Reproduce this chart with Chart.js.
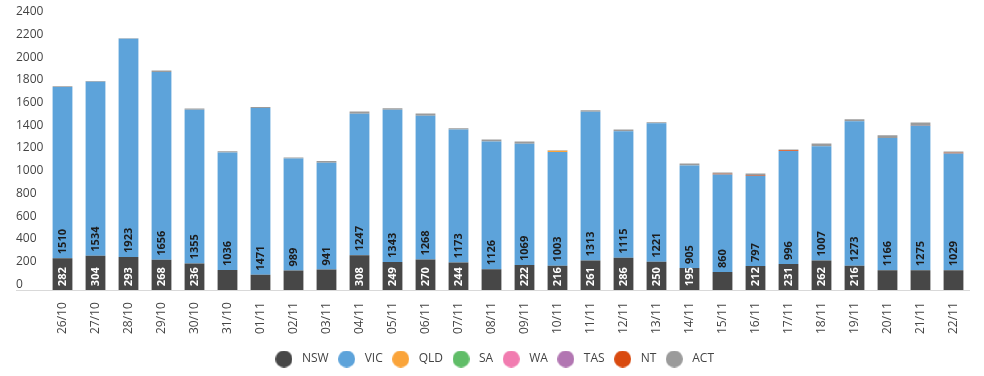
<!DOCTYPE html>
<html lang="en">
<head>
    <meta charset="UTF-8">
    <title>Daily cases by state</title>
    <script src="https://cdn.jsdelivr.net/npm/chart.js"></script>
    <style>
        html, body { margin: 0; padding: 0; background: #fff; }
        #wrap { width: 984px; height: 376px; }
    </style>
</head>
<body>
<div id="wrap"><canvas id="casesChart"></canvas></div>
<script>
    var days = ['26/10', '27/10', '28/10', '29/10', '30/10', '31/10', '01/11', '02/11', '03/11', '04/11',
        '05/11', '06/11', '07/11', '08/11', '09/11', '10/11', '11/11', '12/11', '13/11', '14/11',
        '15/11', '16/11', '17/11', '18/11', '19/11', '20/11', '21/11', '22/11'];

    var nsw = [282, 304, 293, 268, 236, 177, 135, 173, 182, 308, 249, 270, 244, 185,
        222, 216, 261, 286, 250, 195, 160, 212, 231, 262, 216, 176, 176, 176];
    var vic = [1510, 1534, 1923, 1656, 1355, 1036, 1471, 989, 941, 1247, 1343, 1268, 1173, 1126,
        1069, 1003, 1313, 1115, 1221, 905, 860, 797, 996, 1007, 1273, 1166, 1275, 1029];
    var qld = [0, 0, 0, 0, 0, 0, 0, 0, 0, 0, 0, 0, 0, 0, 0, 10, 0, 0, 0, 0, 0, 0, 0, 0, 0, 0, 0, 0];
    var sa  = [0, 0, 0, 0, 0, 0, 0, 0, 0, 0, 0, 0, 0, 0, 0, 0, 0, 0, 0, 0, 0, 0, 0, 0, 0, 0, 0, 0];
    var wa  = [0, 0, 0, 0, 0, 0, 0, 0, 0, 0, 0, 0, 0, 0, 0, 0, 0, 0, 0, 0, 0, 0, 0, 0, 0, 0, 0, 0];
    var tas = [0, 0, 0, 0, 0, 0, 0, 0, 0, 0, 0, 0, 0, 0, 0, 0, 0, 0, 0, 0, 0, 0, 0, 0, 0, 0, 0, 0];
    var nt  = [0, 0, 0, 0, 0, 0, 0, 0, 0, 0, 0, 0, 0, 0, 0, 0, 0, 0, 0, 0, 7, 7, 6, 0, 0, 0, 6, 6];
    var act = [6, 7, 6, 12, 11, 12, 9, 7, 15, 20, 12, 19, 10, 17, 20, 4, 12, 16, 9, 18,
        11, 12, 7, 24, 18, 24, 22, 11];

    var states = ['NSW', 'VIC', 'QLD', 'SA', 'WA', 'TAS', 'NT', 'ACT'];
    var colors = ['#474747', '#5DA3DA', '#FAA43A', '#60BD68', '#F17CB0', '#B276B2', '#D94A0F', '#9B9B9B'];
    var series = [nsw, vic, qld, sa, wa, tas, nt, act];

    // NSW labels that don't fit in the bar were left off in the original
    var MIN_NSW_LABEL = 190;

    Chart.defaults.font.family = '"Open Sans", sans-serif';
    Chart.defaults.font.size = 12;
    Chart.defaults.color = '#444';

    function dot(color) {
        var c = document.createElement('canvas');
        c.width = 17; c.height = 17;
        var g = c.getContext('2d');
        g.fillStyle = color;
        g.beginPath();
        g.arc(8.5, 8.5, 8.5, 0, Math.PI * 2);
        g.fill();
        return c;
    }

    // value text inside the NSW and VIC segments, rotated
    var valueLabels = {
        id: 'valueLabels',
        afterDatasetsDraw: function(chart) {
            var ctx = chart.ctx;
            ctx.save();
            ctx.font = 'bold 11px "Open Sans"';
            ctx.textAlign = 'left';
            ctx.textBaseline = 'middle';
            [0, 1].forEach(function(di) {
                var meta = chart.getDatasetMeta(di);
                meta.data.forEach(function(bar, i) {
                    var v = chart.data.datasets[di].data[i];
                    if (di === 0 && v < MIN_NSW_LABEL) return;
                    ctx.save();
                    ctx.translate(bar.x, bar.base - 4);
                    ctx.rotate(-Math.PI / 2);
                    ctx.fillStyle = di === 0 ? '#ffffff' : '#1c1c1c';
                    ctx.fillText(String(v), 0, 0);
                    ctx.restore();
                });
            });
            ctx.restore();
        }
    };

    // baseline running under the y tick labels too
    var baseLine = {
        id: 'baseLine',
        afterDatasetsDraw: function(chart) {
            var y = chart.scales.y, x = chart.scales.x;
            var py = Math.round(y.getPixelForValue(0)) + 0.5;
            var ctx = chart.ctx;
            ctx.save();
            ctx.strokeStyle = '#d9d9d9';
            ctx.lineWidth = 1;
            ctx.beginPath();
            ctx.moveTo(y.left, py);
            ctx.lineTo(x.right, py);
            ctx.stroke();
            ctx.restore();
        }
    };

    var ctx = document.getElementById('casesChart').getContext('2d');
    var chart = new Chart(ctx, {
        type: 'bar',
        data: {
            labels: days,
            datasets: states.map(function(s, i) {
                return {
                    label: s,
                    data: series[i],
                    backgroundColor: colors[i],
                    borderWidth: 0,
                    barPercentage: 0.6,
                    categoryPercentage: 1
                };
            })
        },
        options: {
            responsive: true,
            maintainAspectRatio: false,
            animation: false,
            layout: { padding: { left: 16, right: 14, top: 18, bottom: 1 } },
            scales: {
                x: {
                    stacked: true,
                    grid: { display: false },
                    border: { display: false },
                    ticks: { minRotation: 90, maxRotation: 90, padding: 4, color: '#444' },
                    afterFit: function(scale) { scale.height = scale.height + 9; }
                },
                y: {
                    stacked: true,
                    min: 0,
                    max: 2400,
                    grid: { display: false },
                    border: { display: false },
                    ticks: {
                        stepSize: 200,
                        crossAlign: 'far',
                        labelOffset: -6,
                        color: '#444',
                        callback: function(v) { return String(v); }
                    },
                    afterFit: function(scale) { scale.width = 30; }
                }
            },
            plugins: {
                tooltip: { enabled: false },
                legend: {
                    position: 'bottom',
                    labels: {
                        usePointStyle: true,
                        pointStyleWidth: 24,
                        padding: 6,
                        color: '#444',
                        generateLabels: function(chart) {
                            var items = Chart.defaults.plugins.legend.labels.generateLabels(chart);
                            items.forEach(function(it) {
                                it.pointStyle = dot(colors[it.datasetIndex]);
                            });
                            return items;
                        }
                    }
                }
            }
        },
        plugins: [valueLabels, baseLine]
    });
</script>
</body>
</html>
